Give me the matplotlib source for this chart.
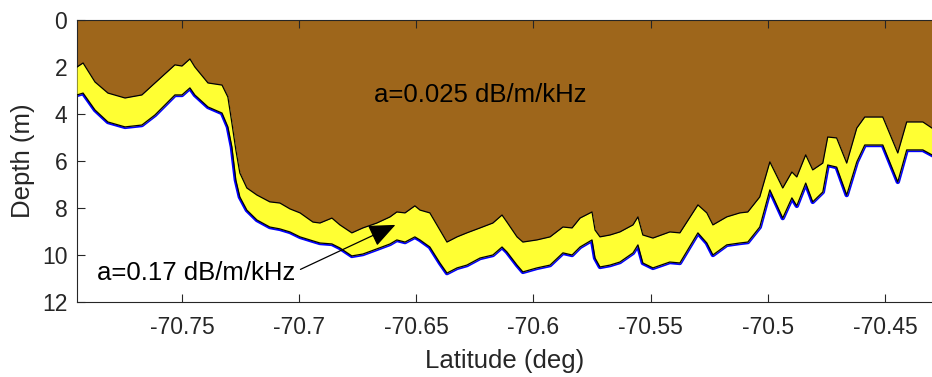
import numpy as np
import matplotlib
matplotlib.use("Agg")
import matplotlib.pyplot as plt

plt.rcParams['font.family'] = ['Liberation Sans', 'DejaVu Sans']

# latitude grid (deg) and depths (m) of the two boundaries
lat = [-70.7948, -70.7922, -70.7871, -70.7816, -70.7743, -70.7671, -70.7615,
       -70.7530, -70.7500, -70.7466, -70.7445, -70.7389, -70.7329, -70.7304,
       -70.7287, -70.7270, -70.7253, -70.7223, -70.7180, -70.7125, -70.7082,
       -70.7039, -70.6996, -70.6941, -70.6911, -70.6860, -70.6826, -70.6775,
       -70.6728, -70.6668, -70.6612, -70.6583, -70.6548, -70.6506, -70.6484,
       -70.6442, -70.6399, -70.6369, -70.6326, -70.6284, -70.6228, -70.6173,
       -70.6134, -70.6113, -70.6070, -70.6045, -70.5985, -70.5929, -70.5874,
       -70.5835, -70.5801, -70.5750, -70.5737, -70.5716, -70.5673, -70.5631,
       -70.5575, -70.5554, -70.5533, -70.5490, -70.5418, -70.5375, -70.5298,
       -70.5260, -70.5234, -70.5175, -70.5119, -70.5085, -70.5034, -70.4991,
       -70.4936, -70.4897, -70.4876, -70.4838, -70.4808, -70.4765, -70.4744,
       -70.4706, -70.4663, -70.4620, -70.4586, -70.4509, -70.4445, -70.4407,
       -70.4338, -70.4299]

depth_top = [2.00, 1.83, 2.64, 3.11, 3.32, 3.19, 2.68, 1.91, 1.96, 1.66,
             2.00, 2.68, 2.77, 3.28, 4.38, 5.53, 6.51, 7.15, 7.45, 7.74,
             7.79, 8.04, 8.21, 8.60, 8.64, 8.43, 8.72, 9.06, 8.85, 8.64,
             8.38, 8.17, 8.21, 7.91, 8.09, 8.21, 8.94, 9.45, 9.23, 9.06,
             8.85, 8.64, 8.30, 8.60, 9.23, 9.45, 9.36, 9.23, 8.81, 8.85,
             8.43, 8.17, 8.94, 9.23, 9.15, 9.02, 8.72, 8.38, 9.15, 9.28,
             9.02, 9.06, 7.87, 8.21, 8.72, 8.38, 8.21, 8.17, 7.53, 6.04,
             7.15, 6.47, 6.68, 5.74, 6.38, 6.09, 4.98, 5.02, 6.09, 4.60,
             4.13, 4.13, 5.66, 4.34, 4.34, 4.60]

depth_bot = [3.19, 3.11, 3.83, 4.34, 4.55, 4.47, 4.04, 3.19, 3.19, 2.89,
             3.19, 3.70, 3.96, 4.55, 5.40, 6.81, 7.53, 8.09, 8.51, 8.81,
             8.89, 9.02, 9.23, 9.40, 9.49, 9.53, 9.70, 10.04, 9.96, 9.74,
             9.53, 9.36, 9.45, 9.23, 9.36, 9.66, 10.34, 10.77, 10.55, 10.43,
             10.13, 10.00, 9.66, 9.87, 10.43, 10.72, 10.55, 10.43, 9.91, 10.00,
             9.66, 9.36, 10.13, 10.51, 10.43, 10.30, 9.91, 9.57, 10.34, 10.55,
             10.30, 10.34, 9.06, 9.49, 10.00, 9.57, 9.49, 9.45, 8.81, 7.23,
             8.43, 7.57, 7.91, 6.94, 7.74, 7.32, 6.17, 6.26, 7.45, 6.04,
             5.32, 5.32, 6.89, 5.53, 5.53, 5.74]

label_top = "a=0.025 dB/m/kHz"
label_bot = "a=0.17 dB/m/kHz"

brown = '#9e661b'
yellow = '#ffff33'
axcol = '#262626'

fig = plt.figure(figsize=(9.32, 3.77), dpi=100)
ax = fig.add_axes([0.0826, 0.199, 0.9174, 0.748])

ax.fill_between(lat, 0, depth_top, color=brown, lw=0, zorder=1)
ax.plot(lat, depth_bot, color='#0000ff', lw=3.2, zorder=2)
ax.fill_between(lat, depth_top, depth_bot, color=yellow, lw=0, zorder=3)
ax.plot(lat, depth_top, color='k', lw=0.9, zorder=4)
ax.plot(lat, depth_bot, color='k', lw=0.9, zorder=4)

ax.text(-70.6228, 3.19, label_top, fontsize=18.5, ha='center', va='center', color='k', zorder=5)
ax.annotate(label_bot, xy=(-70.6589, 8.72), xytext=(-70.7863, 10.77),
            fontsize=18.5, ha='left', va='center', color='k', zorder=5,
            arrowprops=dict(arrowstyle='-|>,head_length=0.75,head_width=0.32',
                            color='k', lw=0.9, mutation_scale=22,
                            shrinkA=2, shrinkB=0, relpos=(1.0, 0.55)))

ax.set_xlim(lat[0], lat[-1])
ax.set_ylim(12, 0)
ax.set_xticks([-70.75, -70.7, -70.65, -70.6, -70.55, -70.5, -70.45])
ax.set_xticklabels(['-70.75', '-70.7', '-70.65', '-70.6', '-70.55', '-70.5', '-70.45'])
ax.set_yticks([0, 2, 4, 6, 8, 10, 12])
ax.tick_params(direction='in', length=6, width=0.8, colors=axcol,
               labelsize=16.5, top=True, pad=7)
ax.tick_params(axis='x', pad=10)
ax.set_xlabel('Latitude (deg)', fontsize=18.5, color=axcol, labelpad=7)
ax.set_ylabel('Depth (m)', fontsize=18.5, color=axcol, labelpad=5)
for s in ax.spines.values():
    s.set_color(axcol)
    s.set_linewidth(0.8)
ax.spines['right'].set_visible(False)

fig.savefig('out.png', dpi=100)
